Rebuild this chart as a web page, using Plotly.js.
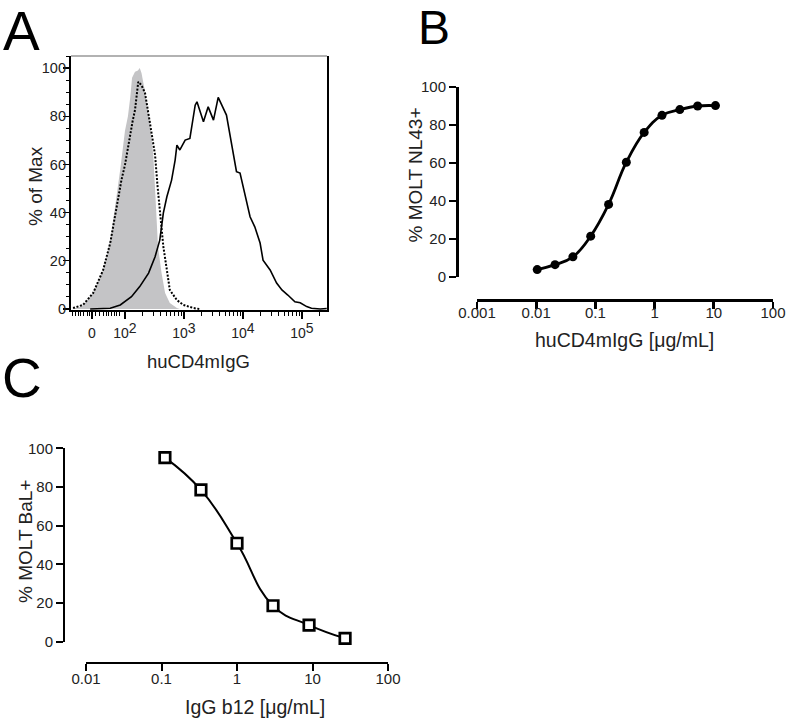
<!DOCTYPE html>
<html>
<head>
<meta charset="utf-8">
<script src="https://cdn.plot.ly/plotly-3.0.1.min.js"></script>
<style>html,body{margin:0;padding:0;background:#fff;}#chart{width:787px;height:719px;}</style>
</head>
<body>
<div id="chart"></div>
<script>
// ---------- Panel A: flow histogram (x in display decades, y in % of max) ----------
const ctrlX = [1.10,1.24,1.29,1.46,1.63,1.75,1.83,1.88,1.92,2.00,2.05,2.09,2.12,2.17,2.22,2.25,2.28,2.34,2.42,2.48,2.51,2.53,2.56,2.62,2.68,2.76,2.88,2.93];
const ctrlY = [0,0.8,1.7,6.6,16.2,28.6,42,50,58,74,80,88,96,98.5,99,100,97.9,90.2,77.7,63.9,51.5,39.8,25.8,14.9,6.6,2.5,0.4,0];
const dotX = [1.12,1.29,1.46,1.63,1.75,1.86,1.94,2.00,2.085,2.13,2.17,2.20,2.225,2.28,2.34,2.42,2.51,2.55,2.59,2.65,2.71,2.76,2.88,2.99,3.16,3.27];
const dotY = [0.4,1.7,6.6,16.2,27.4,42.4,53.5,59.8,72.2,78,82.6,90,94.3,92.9,89.6,77.7,63.9,51.5,39.8,25.9,16.2,7.9,3.7,1.7,0.4,0];
const solX = [1.41,1.75,1.92,2.11,2.25,2.40,2.51,2.59,2.65,2.71,2.79,2.85,2.88,2.93,3.02,3.10,3.19,3.22,3.33,3.41,3.50,3.58,3.72,3.81,3.89,3.95,4.03,4.12,4.20,4.29,4.34,4.46,4.57,4.66,4.76,4.88,4.97,5.08,5.16,5.31,5.42];
const solY = [0,0.3,1.7,5.1,9.3,14.9,21.7,28.6,39.8,46.6,53.5,61.8,68,66,70.1,70.8,84.6,86,77.7,83.9,78.4,87.8,80.5,68,57,56.4,48.1,38.3,34.1,27.4,20.3,16.2,10.8,7.9,5.8,3,2.6,1,0.3,0,0.2];
const aTickPos = [1.44,2,3,4,5];
const aTickText = ["0","10<sup><span style='font-size:14px'>2</span></sup>","10<sup><span style='font-size:14px'>3</span></sup>","10<sup><span style='font-size:14px'>4</span></sup>","10<sup><span style='font-size:14px'>5</span></sup>"];

// ---------- Panel B ----------
const bConc = [0.0104,0.0208,0.0417,0.0833,0.167,0.333,0.667,1.333,2.667,5.333,10.67];
const bPct  = [3.9,6.5,10.6,21.5,38.2,60.4,76.1,85.1,88.1,90.0,90.2];
const bTicks = [0.001,0.01,0.1,1,10,100];
const bTickText = ["0.001","0.01","0.1","1","10","100"];

// ---------- Panel C ----------
const cConc = [0.111,0.333,1,3,9,27];
const cPct  = [95.2,78.5,50.9,18.6,8.6,1.7];
const cTicks = [0.01,0.1,1,10,100];
const cTickText = ["0.01","0.1","1","10","100"];

const yTicks = [0,20,40,60,80,100];

const W = 787, H = 719;
const px = x => x / W;
const py = y => 1 - y / H;
const FONT = "Liberation Sans, Arial, Helvetica, sans-serif";
const TXT = "#222";

// minor tick positions for panel A x axis (styling only)
const nearZeroPx = [72.7,75.7,78.3,80.7,84,87.3,90,96,100,103.3,106.7,109,111.7,114.3,116.7,119.3];
const aMinor = nearZeroPx.map(p => 2 + (p - 125) / 59);
for (let n = 2; n <= 5; n++) {
  for (let k = 2; k <= 9; k++) {
    const v = n + Math.log10(k);
    if (v < 5.42) aMinor.push(v);
  }
}

const traces = [
  {x: ctrlX, y: ctrlY, type: 'scatter', mode: 'lines', fill: 'tozeroy',
   fillcolor: '#c4c4c6', line: {width: 0, color: '#c4c4c6'}, xaxis: 'x', yaxis: 'y', hoverinfo: 'skip'},
  {x: dotX, y: dotY, type: 'scatter', mode: 'lines',
   line: {color: '#000', width: 2, dash: '2px,1.6px'}, xaxis: 'x', yaxis: 'y'},
  {x: solX, y: solY, type: 'scatter', mode: 'lines',
   line: {color: '#000', width: 1.6}, xaxis: 'x', yaxis: 'y'},
  {x: bConc, y: bPct, type: 'scatter', mode: 'lines+markers',
   line: {color: '#000', width: 2.8, shape: 'spline', smoothing: 1.2},
   marker: {color: '#000', size: 9, symbol: 'circle'}, cliponaxis: false,
   xaxis: 'x2', yaxis: 'y2'},
  {x: cConc, y: cPct, type: 'scatter', mode: 'lines+markers',
   line: {color: '#000', width: 2, shape: 'spline', smoothing: 1.3},
   marker: {color: '#fff', size: 10.5, symbol: 'square', line: {color: '#000', width: 2.7}},
   cliponaxis: false, xaxis: 'x3', yaxis: 'y3'},
  // invisible carriers for the tick-label-only overlay axes
  {x: bConc, y: bPct, type: 'scatter', mode: 'markers', marker: {opacity: 0}, xaxis: 'x4', yaxis: 'y2', hoverinfo: 'skip'},
  {x: cConc, y: cPct, type: 'scatter', mode: 'markers', marker: {opacity: 0}, xaxis: 'x5', yaxis: 'y3', hoverinfo: 'skip'},
  {x: solX, y: solY, type: 'scatter', mode: 'markers', marker: {opacity: 0}, xaxis: 'x', yaxis: 'y4', hoverinfo: 'skip'}
];

const baseAxis = {showgrid: false, zeroline: false, showline: true, linecolor: '#000',
  ticks: 'outside', tickcolor: '#000', tickfont: {family: FONT, size: 15, color: TXT}};
const labelAxis = {showgrid: false, zeroline: false, showline: false, ticks: '',
  tickfont: {family: FONT, size: 15, color: TXT}};

const layout = {
  width: W, height: H, margin: {l: 0, r: 0, t: 0, b: 0},
  paper_bgcolor: '#fff', plot_bgcolor: 'rgba(0,0,0,0)', showlegend: false,
  font: {family: FONT, color: TXT},
  xaxis: Object.assign({}, baseAxis, {
    domain: [px(71), px(327)], range: [1.085, 5.424], anchor: 'y',
    linewidth: 1.6, ticklen: 7, tickwidth: 1.2, tickmode: 'array',
    tickvals: aTickPos, ticktext: aTickText, tickfont: {family: FONT, size: 14, color: TXT},
    ticklabelstandoff: 3,
    minor: {tickmode: 'array', tickvals: aMinor, ticks: 'outside', ticklen: 4, tickwidth: 1, tickcolor: '#000', showgrid: false}
  }),
  yaxis: Object.assign({}, baseAxis, {
    domain: [py(310), py(56)], range: [-0.41, 105], anchor: 'x', mirror: true,
    linewidth: 1.6, ticklen: 6, tickwidth: 1.2, tickmode: 'array', tickvals: yTicks,
    showticklabels: false,
    minor: {dtick: 5, tick0: 0, ticks: 'outside', ticklen: 3.5, tickwidth: 1, tickcolor: '#000', showgrid: false}
  }),
  yaxis4: Object.assign({}, labelAxis, {
    domain: [py(310), py(56)], range: [-0.41, 105], anchor: 'free', position: px(66),
    overlaying: 'y', tickmode: 'array', tickvals: yTicks, tickfont: {family: FONT, size: 14.5, color: TXT}
  }),
  xaxis2: Object.assign({}, baseAxis, {
    type: 'log', domain: [px(477), px(773)], range: [-3, 2], anchor: 'free', position: py(300),
    linewidth: 3, ticklen: 7, tickwidth: 2.6, tickmode: 'array', tickvals: bTicks, showticklabels: false
  }),
  xaxis4: Object.assign({}, labelAxis, {
    type: 'log', domain: [px(477), px(773)], range: [-3, 2], anchor: 'free', position: py(302),
    overlaying: 'x2', tickmode: 'array', tickvals: bTicks, ticktext: bTickText
  }),
  yaxis2: Object.assign({}, baseAxis, {
    domain: [py(277), py(87)], range: [0, 100], anchor: 'free', position: px(457),
    linewidth: 3, ticklen: 7, tickwidth: 2.6, tickmode: 'array', tickvals: yTicks
  }),
  xaxis3: Object.assign({}, baseAxis, {
    type: 'log', domain: [px(86), px(388)], range: [-2, 2], anchor: 'free', position: py(663.3),
    linewidth: 2, ticklen: 7, tickwidth: 2, tickmode: 'array', tickvals: cTicks, showticklabels: false
  }),
  xaxis5: Object.assign({}, labelAxis, {
    type: 'log', domain: [px(86), px(388)], range: [-2, 2], anchor: 'free', position: py(668),
    overlaying: 'x3', tickmode: 'array', tickvals: cTicks, ticktext: cTickText
  }),
  yaxis3: Object.assign({}, baseAxis, {
    domain: [py(641.7), py(448.3)], range: [0, 100], anchor: 'free', position: px(64),
    linewidth: 2, ticklen: 7, tickwidth: 2, tickmode: 'array', tickvals: yTicks
  }),
  shapes: [
    {type: 'line', xref: 'x domain', yref: 'y domain', x0: 0, x1: 1, y0: 1, y1: 1,
     line: {color: '#999', width: 1.6}}
  ],
  annotations: [
    {text: 'A', x: px(21.5), y: py(31), xref: 'paper', yref: 'paper', showarrow: false,
     xanchor: 'center', yanchor: 'middle', font: {family: FONT, size: 55, color: '#000'}},
    {text: 'B', x: px(433.5), y: py(28), xref: 'paper', yref: 'paper', showarrow: false,
     xanchor: 'center', yanchor: 'middle', font: {family: FONT, size: 48, color: '#000'}},
    {text: 'C', x: px(22), y: py(378), xref: 'paper', yref: 'paper', showarrow: false,
     xanchor: 'center', yanchor: 'middle', font: {family: FONT, size: 55, color: '#000'}},
    {text: '% of Max', x: px(35), y: py(186), xref: 'paper', yref: 'paper', showarrow: false,
     textangle: -90, xanchor: 'center', yanchor: 'middle', font: {family: FONT, size: 19, color: TXT}},
    {text: 'huCD4mIgG', x: px(199), y: py(361), xref: 'paper', yref: 'paper', showarrow: false,
     xanchor: 'center', yanchor: 'middle', font: {family: FONT, size: 18.5, color: TXT}},
    {text: '% MOLT NL43+', x: px(415), y: py(175.5), xref: 'paper', yref: 'paper', showarrow: false,
     textangle: -90, xanchor: 'center', yanchor: 'middle', font: {family: FONT, size: 19, color: TXT}},
    {text: 'huCD4mIgG [\u03bcg/mL]', x: px(624), y: py(340), xref: 'paper', yref: 'paper', showarrow: false,
     xanchor: 'center', yanchor: 'middle', font: {family: FONT, size: 19.5, color: TXT}},
    {text: '% MOLT BaL+', x: px(25), y: py(542), xref: 'paper', yref: 'paper', showarrow: false,
     textangle: -90, xanchor: 'center', yanchor: 'middle', font: {family: FONT, size: 19, color: TXT}},
    {text: 'IgG b12 [\u03bcg/mL]', x: px(255), y: py(706.5), xref: 'paper', yref: 'paper', showarrow: false,
     xanchor: 'center', yanchor: 'middle', font: {family: FONT, size: 19.5, color: TXT}}
  ]
};

Plotly.newPlot('chart', traces, layout, {staticPlot: true, displayModeBar: false});
</script>
</body>
</html>
